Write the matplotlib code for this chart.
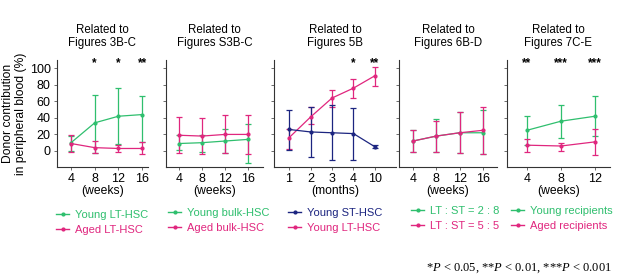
import matplotlib
matplotlib.use("Agg")
from matplotlib import pyplot as plt
from matplotlib.lines import Line2D

plt.rcParams['font.family'] = ['Liberation Sans', 'DejaVu Sans']
plt.rcParams['mathtext.fontset'] = 'custom'
plt.rcParams['mathtext.it'] = 'Liberation Serif:italic'
plt.rcParams['mathtext.rm'] = 'Liberation Serif'

GREEN = '#2fbf6e'
PINK = '#e0267e'
NAVY = '#1c2580'

# panel 1 - Figures 3B-C
p1_x = [4, 8, 12, 16]
p1_young = [10, 34, 42, 44]
p1_young_hi = [18, 68, 76, 67]
p1_young_lo = [0, -3, 8, 11]
p1_aged = [9, 4, 3, 3]
p1_aged_hi = [19, 12, 7, 11]
p1_aged_lo = [-1, -3, -1, -4]
p1_stars = {8: '*', 12: '*', 16: '**'}

# panel 2 - Figures S3B-C
p2_x = [4, 8, 12, 16]
p2_young = [9, 10, 12, 14]
p2_young_hi = [19, 19, 26, 32]
p2_young_lo = [1, -1, -2, -15]
p2_aged = [19, 18, 20, 20]
p2_aged_hi = [41, 40, 43, 44]
p2_aged_lo = [-2, -4, -2, -4]

# panel 3 - Figures 5B (months, categorical)
p3_labels = ['1', '2', '3', '4', '10']
p3_st = [26, 23, 22, 21, 5]
p3_st_hi = [50, 53, 55, 52, 7]
p3_st_lo = [1, -7, -11, -11, 3]
p3_lt = [16, 41, 64, 76, 91]
p3_lt_hi = [26, 53, 74, 87, 102]
p3_lt_lo = [2, 33, 53, 64, 79]
p3_stars = {'4': '*', '10': '**'}

# panel 4 - Figures 6B-D
p4_x = [4, 8, 12, 16]
p4_28 = [12, 18, 22, 22]
p4_28_hi = [25, 39, 47, 49]
p4_28_lo = [-1, -1, -2, -4]
p4_55 = [12, 18, 22, 25]
p4_55_hi = [25, 36, 47, 53]
p4_55_lo = [-1, -1, -2, -4]

# panel 5 - Figures 7C-E
p5_x = [4, 8, 12]
p5_young = [25, 36, 42]
p5_young_hi = [42, 56, 66]
p5_young_lo = [7, 16, 18]
p5_aged = [7, 6, 11]
p5_aged_hi = [14, 10, 26]
p5_aged_lo = [-1, 0, -5]
p5_stars = {4: '**', 8: '***', 12: '***'}

titles = ['Related to\nFigures 3B-C', 'Related to\nFigures S3B-C', 'Related to\nFigures 5B',
          'Related to\nFigures 6B-D', 'Related to\nFigures 7C-E']
xlabels = ['(weeks)', '(weeks)', '(months)', '(weeks)', '(weeks)']

fig = plt.figure(figsize=(6.18, 2.77), dpi=100)
W, H = 618., 277.
boxes = [(57, 148), (166, 263), (274, 396), (399, 497), (507, 610)]
xlims = [(1.63, 17.0), (1.74, 18.6), (-0.7, 4.98), (1.6, 18.4), (1.65, 13.76)]
axes = []
for (l, r) in boxes:
    axes.append(fig.add_axes([l / W, (H - 167) / H, (r - l) / W, 107 / H]))


def draw(ax, x, y, hi, lo, c):
    yerr = [[a - b for a, b in zip(y, lo)], [b - a for a, b in zip(y, hi)]]
    ax.errorbar(x, y, yerr=yerr, color=c, lw=0.9, elinewidth=0.9, capsize=2.5,
                capthick=0.9, marker='o', ms=2, zorder=3)


draw(axes[0], p1_x, p1_young, p1_young_hi, p1_young_lo, GREEN)
draw(axes[0], p1_x, p1_aged, p1_aged_hi, p1_aged_lo, PINK)
draw(axes[1], p2_x, p2_young, p2_young_hi, p2_young_lo, GREEN)
draw(axes[1], p2_x, p2_aged, p2_aged_hi, p2_aged_lo, PINK)
p3_pos = list(range(len(p3_labels)))
draw(axes[2], p3_pos, p3_lt, p3_lt_hi, p3_lt_lo, PINK)
draw(axes[2], p3_pos, p3_st, p3_st_hi, p3_st_lo, NAVY)
draw(axes[3], p4_x, p4_28, p4_28_hi, p4_28_lo, GREEN)
draw(axes[3], p4_x, p4_55, p4_55_hi, p4_55_lo, PINK)
draw(axes[4], p5_x, p5_young, p5_young_hi, p5_young_lo, GREEN)
draw(axes[4], p5_x, p5_aged, p5_aged_hi, p5_aged_lo, PINK)

for k, s in p1_stars.items():
    axes[0].text(k, 106, s, ha='center', va='center', fontsize=8.5, fontweight='bold')
for k, s in p3_stars.items():
    axes[2].text(p3_labels.index(k), 106, s, ha='center', va='center', fontsize=8.5, fontweight='bold')
for k, s in p5_stars.items():
    axes[4].text(k, 106, s, ha='center', va='center', fontsize=8.5, fontweight='bold')

for i, ax in enumerate(axes):
    ax.set_xlim(*xlims[i])
    ax.set_ylim(-19.4, 110)
    ax.set_yticks([0, 20, 40, 60, 80, 100])
    for s in ['top', 'right']:
        ax.spines[s].set_visible(False)
    for s in ['left', 'bottom']:
        ax.spines[s].set_color('#333333')
        ax.spines[s].set_linewidth(0.8)
    ax.tick_params(length=2.5, width=0.6, color='#555555', labelsize=9, pad=2)
    ax.set_title(titles[i], fontsize=8.3, pad=10, linespacing=1.15)
    ax.set_xlabel(xlabels[i], fontsize=8.7, labelpad=0)
    if i > 0:
        ax.set_yticklabels([])
axes[0].set_xticks(p1_x)
axes[1].set_xticks(p2_x)
axes[2].set_xticks(p3_pos)
axes[2].set_xticklabels(p3_labels)
axes[3].set_xticks(p4_x)
axes[4].set_xticks(p5_x)
axes[0].set_ylabel('Donor contribution\nin peripheral blood (%)', fontsize=8.7, labelpad=2, linespacing=1.1)


def leg(labels, colors, x, y):
    hs = [Line2D([], [], color=c, marker='o', ms=2, lw=1) for c in colors]
    fig.legend(hs, labels, loc='upper left', bbox_to_anchor=(x / W, (H - y) / H), frameon=False,
               fontsize=8, handlelength=1.2, handletextpad=0.5, labelspacing=0.45,
               borderpad=0, borderaxespad=0, labelcolor='linecolor')


leg(['Young LT-HSC', 'Aged LT-HSC'], [GREEN, PINK], 56, 210)
leg(['Young bulk-HSC', 'Aged bulk-HSC'], [GREEN, PINK], 168, 208)
leg(['Young ST-HSC', 'Young LT-HSC'], [NAVY, PINK], 288, 208)
leg(['LT : ST = 2 : 8', 'LT : ST = 5 : 5'], [GREEN, PINK], 411, 206)
leg(['Young recipients', 'Aged recipients'], [GREEN, PINK], 511, 206)

fig.text(612 / W, (H - 268) / H, '*$P$ < 0.05, **$P$ < 0.01, ***$P$ < 0.001',
         family='Liberation Serif', fontsize=9, ha='right', va='center')

fig.savefig('out.png', dpi=100)
